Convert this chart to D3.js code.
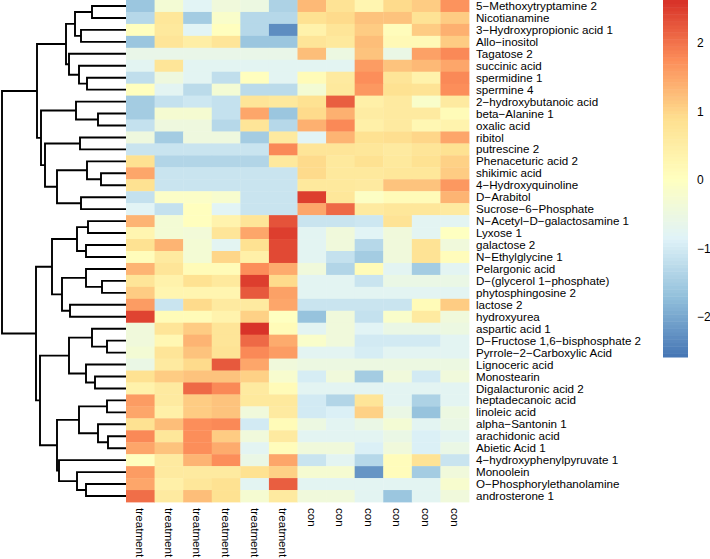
<!DOCTYPE html>
<html><head><meta charset="utf-8">
<script src="https://cdn.jsdelivr.net/npm/d3@7"></script>
<style>body{margin:0;background:#fff}svg{display:block}text{font-family:"Liberation Sans",Arial,Helvetica,sans-serif}</style>
</head><body><svg id="c" width="710" height="559"></svg>
<script>
const rowLabels = ["5−Methoxytryptamine 2","Nicotianamine","3−Hydroxypropionic acid 1","Allo−inositol","Tagatose 2","succinic acid","spermidine 1","spermine 4","2−hydroxybutanoic acid","beta−Alanine 1","oxalic acid","ribitol","putrescine 2","Phenaceturic acid 2","shikimic acid","4−Hydroxyquinoline","D−Arabitol","Sucrose−6−Phosphate","N−Acetyl−D−galactosamine 1","Lyxose 1","galactose 2","N−Ethylglycine 1","Pelargonic acid","D−(glycerol 1−phosphate)","phytosphingosine 2","lactose 2","hydroxyurea","aspartic acid 1","D−Fructose 1,6−bisphosphate 2","Pyrrole−2−Carboxylic Acid","Lignoceric acid","Monostearin","Digalacturonic acid 2","heptadecanoic acid","linoleic acid","alpha−Santonin 1","arachidonic acid","Abietic Acid 1","4−hydroxyphenylpyruvate 1","Monoolein","O−Phosphorylethanolamine","androsterone 1"];
const colLabels = ["treatment","treatment","treatment","treatment","treatment","treatment","con","con","con","con","con","con"];
const values = [
[-1.6,-0.3,-0.8,-0.4,-0.5,-1.4,1.3,0.8,0.3,0.95,1.1,1.7],
[-1.3,0.7,-1.5,-0.15,-1.3,-1.3,0.85,0.95,1.2,1.2,0.8,1.1],
[0.05,0.65,-0.8,0.05,-1.3,-2.3,0.4,0.75,1.1,0.1,1.1,1.4],
[-1.6,0.75,0.5,0.75,-1.6,-1.6,0.75,0.65,1.25,0.2,0.2,1.1],
[-0.6,-0.6,-0.6,-0.6,-0.6,-0.6,1.25,-0.5,1.2,-0.55,1.55,1.8],
[-0.75,0.75,-0.75,-0.75,-0.75,-0.75,-0.75,-0.75,1.6,1.2,1.3,1.5],
[-1.2,-0.45,-0.75,-1.2,0.05,-0.75,0.15,0.6,1.75,0.75,0.4,1.8],
[0.05,-0.75,-1.25,-0.3,-1.25,-1.25,-0.3,0.65,1.65,0.85,0.8,1.75],
[-1.5,-1.15,-1.05,-1.15,0.75,0.65,0.85,2.2,0.45,0.6,-0.15,0.6],
[-1.5,-0.25,-0.25,-1.15,1.5,-1.6,0.95,1.4,0.55,0.6,0.6,0.15],
[-1.15,-0.45,-0.45,-1.3,0.75,-1.3,1.4,1.8,0.45,0.6,0.25,0.35],
[-0.45,-1.5,-0.45,-0.45,-1.5,0.6,-0.8,1.35,0.85,0.9,1.0,1.5],
[-1.1,-1.1,-1.1,-1.1,-1.1,1.8,0.75,0.75,0.7,0.6,0.75,0.85],
[0.85,-1.35,-1.35,-1.35,-1.35,0.65,0.95,0.65,0.85,0.65,0.85,1.05],
[1.5,-1.1,-1.1,-1.1,-1.1,-1.1,0.95,0.65,0.65,0.7,0.7,1.1],
[0.85,-1.1,-1.1,-1.1,-1.1,-1.1,0.65,0.65,0.6,1.2,1.2,1.65],
[-1.15,-0.1,-0.1,-0.2,-1.1,-1.1,2.5,0.7,-0.05,0.15,0.15,1.35],
[-0.8,-1.15,0.05,-0.8,-1.1,-1.1,1.5,2.1,0.6,0.7,0.7,0.6],
[1.35,-0.3,0.05,0.35,0.75,2.3,-1.1,-1.1,-1.05,0.8,-0.75,-0.75],
[0.3,-0.3,-0.35,0.75,1.5,2.5,-0.75,-0.4,-0.8,-0.4,-0.75,0.0],
[0.85,1.35,-0.3,-0.75,0.85,2.4,-0.75,-0.4,-1.3,-0.4,0.8,-0.4],
[0.1,0.6,-0.3,1.0,0.45,2.4,-0.75,-1.15,-1.5,-0.4,0.8,0.1],
[1.35,0.75,0.15,0.15,1.75,1.45,-0.4,-1.35,0.15,-0.75,-1.5,-0.75],
[0.75,0.4,0.85,0.65,2.5,0.95,-0.75,-0.75,-1.1,-0.55,-0.55,-0.55],
[1.1,0.3,0.3,0.3,2.25,1.55,-0.75,-0.75,-0.75,-0.75,-0.75,-0.75],
[1.6,-1.1,0.95,0.6,0.6,1.5,-1.1,-1.1,-1.1,-1.1,0.15,1.1],
[2.45,0.15,0.15,0.35,1.05,0.0,-1.65,-0.4,-1.15,-0.15,0.6,-0.4],
[-0.4,0.75,1.1,0.75,2.6,0.15,-0.75,-0.4,-0.8,-0.55,-0.55,-0.5],
[-0.4,0.25,1.35,0.75,2.1,1.45,-0.15,-0.4,-1.0,-1.0,-1.0,-0.75],
[-0.3,0.75,1.2,0.8,1.8,1.6,-0.75,-0.75,-0.95,-0.75,-0.75,-0.75],
[-0.55,0.6,0.95,2.25,1.5,-0.4,-0.5,-0.5,-0.5,-0.5,-0.5,-0.5],
[0.85,1.1,1.2,1.2,1.05,-0.2,-0.95,-0.4,-1.5,-0.4,-1.0,-0.4],
[0.4,0.6,2.1,1.8,0.6,0.15,-0.75,-0.75,-0.75,-0.75,-0.75,-0.75],
[1.6,0.6,1.1,1.2,0.65,0.65,-1.0,-1.35,0.75,-0.75,-1.4,-0.75],
[1.5,0.45,1.1,1.2,-0.4,0.6,-1.0,-0.9,1.05,-0.55,-1.65,-0.5],
[0.85,1.25,1.75,1.8,-1.0,0.15,-0.5,-0.75,-0.55,-0.3,-0.75,-0.55],
[1.8,0.7,1.75,1.1,-0.4,0.6,-0.75,-0.75,-0.75,-0.55,-0.9,-0.75],
[1.5,1.2,1.75,1.45,-0.75,0.1,-0.4,-0.4,-0.9,-0.4,-0.9,-0.55],
[0.05,0.6,1.35,1.75,-0.55,1.5,-1.1,-0.75,-1.3,0.1,0.8,-1.1],
[1.6,0.6,0.6,0.6,0.85,1.05,-0.25,-0.25,-2.2,0.1,-1.5,-0.4],
[1.5,0.45,0.7,0.85,-0.75,2.2,-0.75,-0.75,-0.75,-0.75,-0.75,-0.2],
[2.05,0.6,1.25,0.85,-0.25,0.6,-0.4,-0.4,-0.75,-1.6,-0.75,-0.4]
];
// row dendrogram: [mergeHeight, left, right]; integers are leaf row indices
const rowTree = [124,
  [89,
    [60, [51, [34,0,1], [45,2,3]], [57, 4, [47, 5, [39,6,7]]]],
    [85, [50, 8, [28,9,10]], [81, [46,11,12], [69, [39, 13, [25,14,15]], [45,16,17]]]]
  ],
  [90,
    [74, [49, [38,18,19], [40,20,21]], [64, [40, 22, [24,23,24]], [56,25,26]]],
    [86,
      [57, [34, 27, [19,28,29]], [40, 30, [31,31,32]]],
      [69, [47, [19,33,34], [28, 35, [18,36,37]]], [67, 38, [49, 39, [40,40,41]]]]
    ]
  ]
];
const valueRange = [-2.58, 2.63];
const legendTicks = [-2,-1,0,1,2];
const paletteColors = ["#4575B4","#91BFDB","#E0F3F8","#FFFFBF","#FEE090","#FC8D59","#D73027"];

const svg = d3.select("#c");
const hm = {x0:126, x1:469, y0:0, y1:502};
const x = d3.scaleBand().domain(d3.range(colLabels.length)).range([hm.x0, hm.x1]);
const y = d3.scaleBand().domain(d3.range(rowLabels.length)).range([hm.y0, hm.y1]);
const stops = paletteColors.map((c,i)=> valueRange[0] + i*(valueRange[1]-valueRange[0])/(paletteColors.length-1));
const color = d3.scaleLinear().domain(stops).range(paletteColors).interpolate(d3.interpolateRgb).clamp(true);

// cells
const cells = [];
values.forEach((row,i)=>row.forEach((v,j)=>cells.push({i,j,v})));
svg.append("g").selectAll("rect").data(cells).join("rect")
  .attr("x", d=>x(d.j)).attr("y", d=>y(d.i))
  .attr("width", x.bandwidth()+0.4).attr("height", y.bandwidth()+0.4)
  .attr("fill", d=>color(d.v));

// row labels
svg.append("g").selectAll("text").data(rowLabels).join("text")
  .attr("x", hm.x1+7).attr("y", (d,i)=>y(i)+y.bandwidth()/2)
  .attr("dy","0.35em").attr("font-size","11.6px").attr("fill","#000").text(d=>d);

// column labels
svg.append("g").selectAll("text").data(colLabels).join("text")
  .attr("transform",(d,j)=>`translate(${x(j)+x.bandwidth()/2},${hm.y1+6}) rotate(90)`)
  .attr("dy","0.35em").attr("font-size","11.7px").attr("fill","#000").text(d=>d);

// dendrogram
const root = d3.hierarchy(rowTree, d => Array.isArray(d) ? d.slice(1) : null);
const hx = d3.scaleLinear().domain([0, rowTree[0]]).range([hm.x0, 2]);
root.eachAfter(n=>{
  if (!n.children) { n.py = y(n.data)+y.bandwidth()/2; n.px = hx(0); }
  else { n.py = (n.children[0].py + n.children[1].py)/2; n.px = hx(n.data[0]); }
});
const segs = [];
root.each(n=>{
  if (n.children) {
    const [a,b] = n.children;
    segs.push(`M${a.px},${a.py}H${n.px}V${b.py}H${b.px}`);
  }
});
svg.append("g").selectAll("path").data(segs).join("path")
  .attr("d", d=>d).attr("fill","none").attr("stroke","#000").attr("stroke-width",1.9);

// colour legend
const lg = {x:663, w:25, y0:0, y1:357};
const ly = d3.scaleLinear().domain(valueRange).range([lg.y1, lg.y0]);
const nb = 100;
const bands = d3.range(nb).map(k => valueRange[0] + (k+0.5)*(valueRange[1]-valueRange[0])/nb);
const bh = (lg.y1-lg.y0)/nb;
svg.append("g").selectAll("rect").data(bands).join("rect")
  .attr("x", lg.x).attr("width", lg.w)
  .attr("y", d=>ly(d)-bh/2).attr("height", bh+0.5)
  .attr("fill", d=>color(d));
svg.append("g").selectAll("text").data(legendTicks).join("text")
  .attr("x", lg.x+lg.w+9).attr("y", d=>ly(d)).attr("dy","0.35em")
  .attr("font-size","12px").attr("fill","#000")
  .text(d=> d<0 ? "−"+Math.abs(d) : String(d));
</script></body></html>
